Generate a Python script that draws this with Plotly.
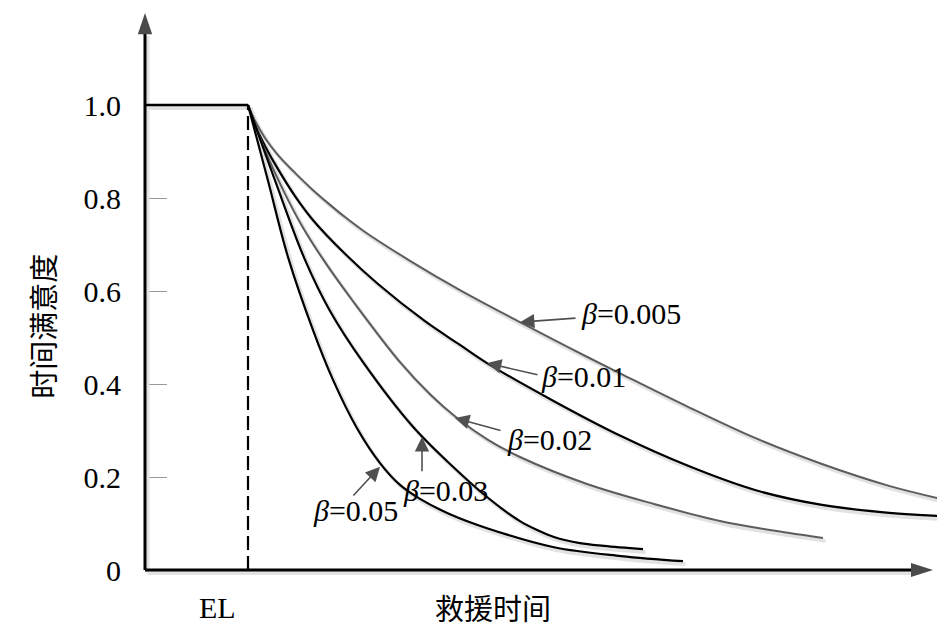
import plotly.graph_objects as go

# 曲线数据（横轴：救援时间，单位任意；纵轴：时间满意度）
EL = 1.03

x_b005 = [1.03, 1.10, 1.20, 1.33, 1.50, 1.67, 1.83, 2.00, 2.20, 2.65, 3.15, 3.75, 4.25, 4.76, 5.43, 6.10, 6.77, 7.44, 7.96]
y_b005 = [1.0, 0.966, 0.929, 0.892, 0.854, 0.819, 0.789, 0.759, 0.727, 0.665, 0.602, 0.533, 0.477, 0.422, 0.351, 0.284, 0.228, 0.181, 0.153]

x_b01 = [1.03, 1.10, 1.20, 1.33, 1.50, 1.67, 2.00, 2.33, 2.80, 3.15, 3.42, 4.09, 4.76, 5.43, 6.10, 6.77, 7.44, 7.96]
y_b01 = [1.0, 0.957, 0.912, 0.862, 0.804, 0.755, 0.680, 0.615, 0.535, 0.484, 0.445, 0.363, 0.288, 0.224, 0.172, 0.140, 0.123, 0.116]

x_b02 = [1.03, 1.20, 1.40, 1.57, 1.80, 2.08, 2.55, 2.85, 3.12, 3.43, 3.75, 4.42, 5.09, 5.76, 6.43, 6.78]
y_b02 = [1.0, 0.903, 0.809, 0.740, 0.662, 0.578, 0.447, 0.378, 0.327, 0.280, 0.243, 0.185, 0.142, 0.105, 0.080, 0.069]

x_b03 = [1.03, 1.31, 1.60, 1.85, 2.18, 2.68, 3.08, 3.42, 3.75, 3.92, 4.09, 4.35, 4.59, 4.98]
y_b03 = [1.0, 0.832, 0.667, 0.557, 0.447, 0.308, 0.222, 0.157, 0.105, 0.086, 0.071, 0.058, 0.052, 0.045]

x_b05 = [1.03, 1.23, 1.43, 1.68, 1.88, 2.12, 2.35, 2.55, 2.75, 3.05, 3.42, 4.09, 4.76, 5.38]
y_b05 = [1.0, 0.837, 0.673, 0.516, 0.409, 0.305, 0.230, 0.183, 0.153, 0.120, 0.090, 0.049, 0.030, 0.019]

y_ticks = [0, 0.2, 0.4, 0.6, 0.8, 1.0]
y_tick_text = ['0', '0.2', '0.4', '0.6', '0.8', '1.0']

labels = ['0.005', '0.01', '0.02', '0.03', '0.05']
# 标注文字位置
label_x = [4.86, 4.38, 4.04, 3.00, 2.10]
label_y = [0.551, 0.417, 0.280, 0.172, 0.129]
# 箭头：箭尖 / 箭尾
tip_x = [3.75, 3.42, 3.10, 2.77, 2.35]
tip_y = [0.533, 0.445, 0.327, 0.286, 0.222]
tail_x = [4.32, 3.94, 3.57, 2.77, 2.07]
tail_y = [0.542, 0.419, 0.299, 0.209, 0.157]

serif = 'Liberation Serif'
cjk = 'Noto Sans CJK SC'
gray = '#5c5c5c'
shadow = '#e2e2e2'
sdx, sdy = 0.025, -0.0065   # 阴影偏移

X_RANGE = [-1.37, 8.08]
Y_RANGE = [-0.1677, 1.2086]
X_END = 7.68    # 横轴箭头起点
Y_END = 1.155   # 纵轴箭头起点

fig = go.Figure()

curves = [
    ([0, EL], [1.0, 1.0], 'black', 2.5),
    (x_b005, y_b005, gray, 2),
    (x_b01, y_b01, 'black', 2.2),
    (x_b02, y_b02, gray, 2),
    (x_b03, y_b03, 'black', 2.2),
    (x_b05, y_b05, 'black', 2.2),
]

# 阴影
for xs, ys, c, w in curves:
    fig.add_trace(go.Scatter(
        x=[v + sdx for v in xs], y=[v + sdy for v in ys], mode='lines',
        line=dict(color=shadow, width=w + 1.5, shape='spline', smoothing=1.0),
        showlegend=False, hoverinfo='skip',
    ))
fig.add_trace(go.Scatter(x=[sdx, X_END + sdx], y=[sdy, sdy], mode='lines',
                         line=dict(color=shadow, width=4), showlegend=False, hoverinfo='skip'))
fig.add_trace(go.Scatter(x=[sdx, sdx], y=[sdy, Y_END + sdy], mode='lines',
                         line=dict(color=shadow, width=4), showlegend=False, hoverinfo='skip'))

for xs, ys, c, w in curves:
    fig.add_trace(go.Scatter(
        x=xs, y=ys, mode='lines',
        line=dict(color=c, width=w, shape='spline', smoothing=1.0),
        showlegend=False,
    ))

# EL 虚线
fig.add_shape(type='line', x0=EL, x1=EL, y0=0, y1=1.0,
              line=dict(color='black', width=2.2, dash='14px,6px'))

# 坐标轴 + 箭头
fig.add_shape(type='line', x0=0, x1=X_END, y0=0, y1=0, line=dict(color='black', width=3))
fig.add_shape(type='line', x0=0, x1=0, y0=0, y1=Y_END, line=dict(color='black', width=3))
fig.add_shape(type='path', path='M 7.66 -0.015 L 7.88 0 L 7.66 0.015 Z',
              fillcolor='#4a4a4a', line=dict(width=0))
fig.add_shape(type='path', path='M -0.072 1.152 L 0 1.198 L 0.072 1.152 Z',
              fillcolor='#4a4a4a', line=dict(width=0))

for i, lab in enumerate(labels):
    fig.add_annotation(
        x=tip_x[i], y=tip_y[i], ax=tail_x[i], ay=tail_y[i],
        axref='x', ayref='y', text='', showarrow=True,
        arrowhead=2, arrowsize=1.8, arrowwidth=1.6, arrowcolor='#505050',
        standoff=0, startstandoff=0,
    )
    fig.add_annotation(
        x=label_x[i], y=label_y[i], text='<i>β</i>=' + lab, showarrow=False,
        font=dict(family=serif, size=30, color='black'),
    )

fig.add_annotation(x=-1.03, y=0.523, text='时间满意度', textangle=-90, showarrow=False,
                   font=dict(family=cjk, size=29, color='black'))
fig.add_annotation(x=0.72, y=-0.08, text='EL', showarrow=False,
                   font=dict(family=serif, size=30, color='black'))
fig.add_annotation(x=3.48, y=-0.08, text='救援时间', showarrow=False,
                   font=dict(family=cjk, size=29, color='black'))

fig.update_xaxes(range=X_RANGE, visible=False)
fig.update_yaxes(
    range=Y_RANGE, showgrid=False, zeroline=False, showline=False,
    anchor='free', position=(0 - X_RANGE[0]) / (X_RANGE[1] - X_RANGE[0]),
    tickvals=y_ticks, ticktext=y_tick_text, ticks='inside', ticklen=21,
    tickcolor='#999999', tickwidth=1, ticklabelstandoff=24,
    tickfont=dict(family=serif, size=30, color='black'),
    layer='below traces',
)
fig.update_layout(
    width=945, height=640,
    margin=dict(l=0, r=0, t=0, b=0),
    plot_bgcolor='white', paper_bgcolor='white',
)

fig.write_html('out.html')
